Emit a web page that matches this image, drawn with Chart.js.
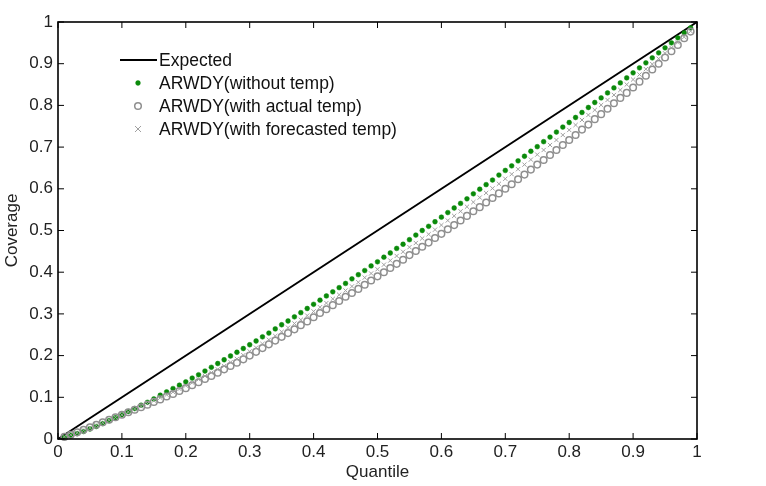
<!DOCTYPE html>
<html>
<head>
<meta charset="utf-8">
<script src="https://cdn.jsdelivr.net/npm/chart.js@4/dist/chart.umd.min.js"></script>
<style>
html,body{margin:0;padding:0;background:#fff;}
#wrap{width:766px;height:486px;}
</style>
</head>
<body>
<div id="wrap"><canvas id="c" width="766" height="486"></canvas></div>
<script>
// Quantile levels (x positions of markers)
const quantiles = [0.01,0.02,0.03,0.04,0.05,0.06,0.07,0.08,0.09,0.10,
0.11,0.12,0.13,0.14,0.15,0.16,0.17,0.18,0.19,0.20,
0.21,0.22,0.23,0.24,0.25,0.26,0.27,0.28,0.29,0.30,
0.31,0.32,0.33,0.34,0.35,0.36,0.37,0.38,0.39,0.40,
0.41,0.42,0.43,0.44,0.45,0.46,0.47,0.48,0.49,0.50,
0.51,0.52,0.53,0.54,0.55,0.56,0.57,0.58,0.59,0.60,
0.61,0.62,0.63,0.64,0.65,0.66,0.67,0.68,0.69,0.70,
0.71,0.72,0.73,0.74,0.75,0.76,0.77,0.78,0.79,0.80,
0.81,0.82,0.83,0.84,0.85,0.86,0.87,0.88,0.89,0.90,
0.91,0.92,0.93,0.94,0.95,0.96,0.97,0.98,0.99];

const expectedX = [0, 1];
const expectedY = [0, 1];

const withoutTemp = [0.004,0.009,0.013,0.018,0.024,0.030,0.037,0.044,0.051,0.058,
0.066,0.073,0.081,0.088,0.096,0.105,0.113,0.121,0.129,0.137,
0.146,0.154,0.163,0.172,0.181,0.190,0.199,0.208,0.217,0.226,
0.235,0.245,0.254,0.264,0.274,0.283,0.293,0.303,0.313,0.323,
0.333,0.343,0.353,0.363,0.373,0.384,0.394,0.404,0.415,0.425,
0.436,0.446,0.457,0.467,0.478,0.489,0.500,0.510,0.521,0.532,
0.543,0.554,0.565,0.576,0.588,0.599,0.610,0.621,0.633,0.644,
0.655,0.667,0.678,0.690,0.701,0.713,0.724,0.736,0.748,0.759,
0.771,0.783,0.795,0.807,0.818,0.830,0.842,0.854,0.866,0.878,
0.890,0.902,0.914,0.926,0.938,0.950,0.962,0.974,0.986];

const withActualTemp = [0.005,0.010,0.016,0.022,0.028,0.034,0.040,0.046,0.052,0.058,
0.064,0.070,0.076,0.082,0.089,0.095,0.102,0.108,0.115,0.122,
0.129,0.136,0.144,0.151,0.159,0.167,0.175,0.183,0.191,0.200,
0.209,0.218,0.227,0.236,0.245,0.254,0.263,0.273,0.282,0.292,
0.302,0.311,0.321,0.331,0.341,0.350,0.360,0.370,0.380,0.390,
0.400,0.410,0.420,0.430,0.441,0.451,0.461,0.471,0.482,0.492,
0.503,0.513,0.524,0.535,0.546,0.556,0.567,0.578,0.589,0.600,
0.611,0.623,0.634,0.646,0.658,0.669,0.681,0.693,0.705,0.717,
0.729,0.742,0.754,0.767,0.779,0.792,0.805,0.818,0.830,0.843,
0.857,0.871,0.886,0.900,0.915,0.930,0.945,0.961,0.977];

const withForecastTemp = [0.005,0.010,0.015,0.021,0.027,0.033,0.039,0.045,0.052,0.058,
0.065,0.072,0.078,0.085,0.092,0.099,0.106,0.113,0.120,0.128,
0.135,0.143,0.151,0.159,0.167,0.175,0.184,0.192,0.201,0.210,
0.219,0.228,0.238,0.247,0.257,0.267,0.277,0.286,0.296,0.306,
0.316,0.326,0.336,0.346,0.356,0.366,0.376,0.387,0.397,0.407,
0.418,0.428,0.439,0.449,0.460,0.470,0.481,0.491,0.502,0.513,
0.524,0.535,0.546,0.557,0.568,0.579,0.590,0.601,0.612,0.624,
0.635,0.647,0.658,0.670,0.682,0.693,0.705,0.717,0.729,0.741,
0.753,0.765,0.777,0.789,0.801,0.813,0.825,0.837,0.850,0.862,
0.874,0.887,0.899,0.912,0.925,0.938,0.951,0.964,0.978];

const seriesLabels = ['Expected','ARWDY(without temp)','ARWDY(with actual temp)','ARWDY(with forecasted temp)'];
const tickValues = [0,0.1,0.2,0.3,0.4,0.5,0.6,0.7,0.8,0.9,1];
const tickLabels = ['0','0.1','0.2','0.3','0.4','0.5','0.6','0.7','0.8','0.9','1'];

const FONT = "'Liberation Sans', Arial, Helvetica, sans-serif";
const FS = 17;
const pts = (xs, ys) => xs.map((x, i) => ({x: x, y: ys[i]}));

const boxTicks = {
  id: 'boxTicks',
  afterDatasetsDraw(chart) {
    const {ctx, chartArea: a, scales} = chart;
    ctx.save();
    ctx.strokeStyle = '#000';
    ctx.lineWidth = 1;
    const L = 6;
    tickValues.forEach(v => {
      const px = scales.x.getPixelForValue(v);
      const py = scales.y.getPixelForValue(v);
      ctx.beginPath();
      ctx.moveTo(px, a.bottom); ctx.lineTo(px, a.bottom - L);
      ctx.moveTo(px, a.top); ctx.lineTo(px, a.top + L);
      ctx.moveTo(a.left, py); ctx.lineTo(a.left + L, py);
      ctx.moveTo(a.right, py); ctx.lineTo(a.right - L, py);
      ctx.stroke();
    });
    ctx.lineWidth = 1.6;
    ctx.strokeRect(a.left, a.top, a.right - a.left, a.bottom - a.top);
    ctx.restore();
  }
};

const insideLegend = {
  id: 'insideLegend',
  afterDraw(chart) {
    const {ctx} = chart;
    const rows = [60, 83, 106, 129];
    const x0 = 120, x1 = 157, xm = 138, xt = 159;
    ctx.save();
    ctx.font = '17.5px ' + FONT;
    ctx.textBaseline = 'middle';
    ctx.textAlign = 'left';
    chart.data.datasets.forEach((ds, i) => {
      const y = rows[i];
      ctx.strokeStyle = ds.borderColor; ctx.lineWidth = ds.borderWidth;
      ctx.fillStyle = ds.backgroundColor;
      ctx.beginPath();
      if (i === 0) {
        ctx.moveTo(x0, y); ctx.lineTo(x1, y); ctx.stroke();
      } else if (ds.pointStyle === 'circle') {
        ctx.arc(xm, y, ds.pointRadius, 0, Math.PI * 2);
        ctx.fill();
        ctx.stroke();
      } else {
        const r = ds.pointRadius;
        ctx.moveTo(xm - r, y - r); ctx.lineTo(xm + r, y + r);
        ctx.moveTo(xm - r, y + r); ctx.lineTo(xm + r, y - r);
        ctx.stroke();
      }
      ctx.fillStyle = '#111';
      ctx.fillText(ds.label, xt, y + 1);
    });
    ctx.restore();
  }
};

new Chart(document.getElementById('c'), {
  type: 'scatter',
  data: {
    datasets: [
      {label: seriesLabels[0], type: 'line', data: pts(expectedX, expectedY), borderColor: '#000', borderWidth: 2,
       pointRadius: 0, showLine: true, fill: false, order: 4},
      {label: seriesLabels[1], data: pts(quantiles, withoutTemp), pointStyle: 'circle', pointRadius: 2.4,
       backgroundColor: '#0a8a0a', borderColor: '#0a8a0a', borderWidth: 0.5, order: 3},
      {label: seriesLabels[2], data: pts(quantiles, withActualTemp), pointStyle: 'circle', pointRadius: 3.3,
       backgroundColor: 'rgba(0,0,0,0)', borderColor: '#8f8f8f', borderWidth: 1.5, order: 2},
      {label: seriesLabels[3], data: pts(quantiles, withForecastTemp), pointStyle: 'crossRot', pointRadius: 3,
       backgroundColor: 'rgba(0,0,0,0)', borderColor: '#a0a0a0', borderWidth: 1, order: 1}
    ]
  },
  options: {
    responsive: false,
    animation: false,
    clip: false,
    layout: {padding: {top: 22, right: 69, left: 0, bottom: 0}},
    plugins: {legend: {display: false}, tooltip: {enabled: false}},
    scales: {
      x: {
        type: 'linear', min: 0, max: 1,
        afterFit(s) { s.height = 47; },
        afterBuildTicks(s) { s.ticks = tickValues.map(v => ({value: v})); },
        grid: {display: false, drawTicks: false},
        border: {display: false},
        ticks: {padding: 3, color: '#222', font: {family: FONT, size: FS},
                callback: (v) => tickLabels[tickValues.indexOf(Math.round(v * 10) / 10)], maxRotation: 0, autoSkip: false},
        title: {display: true, text: 'Quantile', color: '#222', font: {family: FONT, size: FS}, padding: {top: 0, bottom: 3}}
      },
      y: {
        type: 'linear', min: 0, max: 1,
        afterFit(s) { s.width = 58; },
        afterBuildTicks(s) { s.ticks = tickValues.map(v => ({value: v})); },
        grid: {display: false, drawTicks: false},
        border: {display: false},
        ticks: {padding: 5, color: '#222', font: {family: FONT, size: FS},
                callback: (v) => tickLabels[tickValues.indexOf(Math.round(v * 10) / 10)], autoSkip: false},
        title: {display: true, text: 'Coverage', color: '#222', font: {family: FONT, size: FS}, padding: {top: 2, bottom: 0}}
      }
    }
  },
  plugins: [boxTicks, insideLegend]
});
</script>
</body>
</html>
